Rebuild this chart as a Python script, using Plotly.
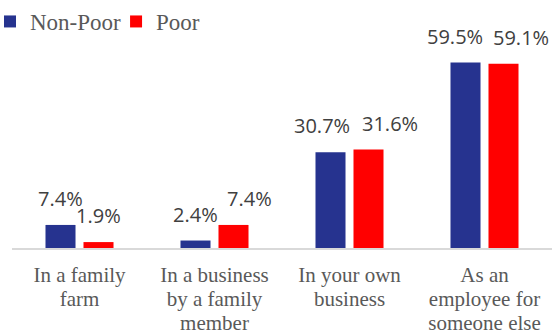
import plotly.graph_objects as go

# Where respondents work, by poverty status (%)
categories = [
    "In a family<br>farm",
    "In a business<br>by a family<br>member",
    "In your own<br>business",
    "As an<br>employee for<br>someone else",
]
series_names = ["Non-Poor", "Poor"]
non_poor = [7.4, 2.4, 30.7, 59.5]
poor = [1.9, 7.4, 31.6, 59.1]
colors = ["#26338f", "#ff0000"]

# horizontal nudge (px) of each value label from its bar centre
label_nudge = {
    "Non-Poor": [-19, -19, -28, -30],
    "Poor": [19, 35, 40, 36],
}

LABEL_SIZE = 21
label_font = "Liberation Serif, Times New Roman, serif"
W, H = 554, 335


def tick_text(cat):
    # larger glyphs inside each line, tighter line spacing from the base size
    return "<br>".join(
        f'<span style="font-size:{LABEL_SIZE}px">{line}</span>' for line in cat.split("<br>")
    )


x_keys = [c.replace("<br>", " ") for c in categories]

fig = go.Figure()
for name, vals, col in zip(series_names, [non_poor, poor], colors):
    fig.add_trace(go.Bar(
        x=x_keys, y=vals, name=name,
        marker=dict(color=col, line=dict(width=0)),
    ))

# value labels above each bar
for name, vals in zip(series_names, [non_poor, poor]):
    for k, v, dx in zip(x_keys, vals, label_nudge[name]):
        fig.add_annotation(
            x=k, y=v, text=f"{v:.1f}%", showarrow=False,
            xshift=dx, yshift=11, yanchor="bottom",
            font=dict(family="Open Sans, sans-serif", size=20, color="#404040"),
        )

fig.update_layout(
    width=W, height=H,
    margin=dict(l=0, r=0, t=0, b=87),
    paper_bgcolor="white", plot_bgcolor="white",
    barmode="group", bargap=0.437, bargroupgap=0.21,
    showlegend=True,
    legend=dict(
        orientation="h", x=0, y=1,
        xanchor="left", yanchor="top",
        font=dict(family=label_font, size=23, color="#595959"),
        itemwidth=30, tracegroupgap=0, indentation=-10,
        bgcolor="rgba(0,0,0,0)",
    ),
)
fig.update_xaxes(
    domain=[12 / W, 552 / W],
    tickmode="array", tickvals=x_keys, ticktext=[tick_text(c) for c in categories],
    tickfont=dict(family=label_font, size=18.5, color="#595959"),
    ticklabelstandoff=10,
    showline=True, linecolor="#d9d9d9", linewidth=2,
    ticks="", showgrid=False, zeroline=False,
)
fig.update_yaxes(range=[0, 79.6], visible=False, showgrid=False, zeroline=False)

fig.write_html("out.html")
